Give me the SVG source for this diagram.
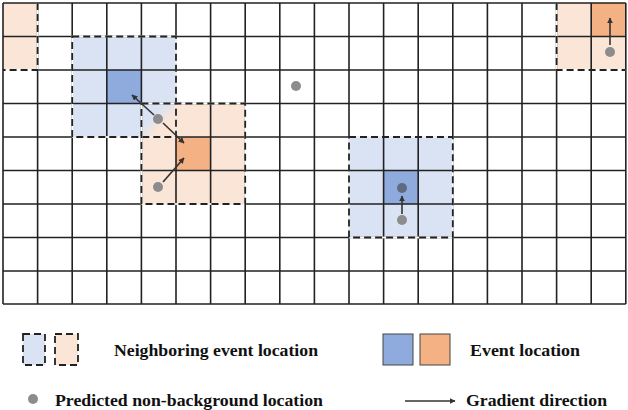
<svg xmlns="http://www.w3.org/2000/svg" width="628" height="410" viewBox="0 0 628 410">
<defs>
<style>
.lb{fill:#dae3f3}.db{fill:#8faadc}.lo{fill:#fbe5d6}.do{fill:#f4b183}
.g{stroke:#222;stroke-width:1.6}
.dw{fill:none;stroke:#fff;stroke-width:1.8}
.dd{fill:none;stroke:#222;stroke-width:1.8;stroke-dasharray:7 4}
.dot{fill:#8c8c8c}
.ar{stroke:#333;stroke-width:1.6;marker-end:url(#ah)}
.t{font-family:"Liberation Serif","Times New Roman",serif;font-weight:bold;font-size:17px;fill:#111}
</style>
<marker id="ah" viewBox="0 0 10 10" refX="9" refY="5" markerWidth="6" markerHeight="6" orient="auto" markerUnits="userSpaceOnUse"><path d="M0,0L10,5L0,10z" fill="#333"/></marker>
<linearGradient id="mix" x1="0" y1="0" x2="1" y2="1"><stop offset="0.35" stop-color="#dae3f3"/><stop offset="0.65" stop-color="#fbe5d6"/></linearGradient>
</defs>
<rect width="628" height="410" fill="#fff"/>
<g id="fills">
<rect class="lo" x="3" y="3" width="34.6" height="67"/>
<rect class="lb" x="72.2" y="36.5" width="103.8" height="100.5"/>
<rect class="lo" x="141.4" y="103.5" width="103.8" height="100.5"/>
<rect fill="url(#mix)" x="141.4" y="103.5" width="34.6" height="33.5"/>
<rect class="db" x="106.8" y="70" width="34.6" height="33.5"/>
<rect class="do" x="176" y="137" width="34.6" height="33.5"/>
<rect class="lb" x="349" y="137" width="103.8" height="100.5"/>
<rect class="db" x="383.6" y="170.5" width="34.6" height="33.5"/>
<rect class="lo" x="556.6" y="3" width="69.2" height="67"/>
<rect class="do" x="591.2" y="3" width="34.6" height="33.5"/>
</g>
<g id="grid" class="g">
<path d="M3,3V304M37.6,3V304M72.2,3V304M106.8,3V304M141.4,3V304M176,3V304M210.6,3V304M245.2,3V304M279.8,3V304M314.4,3V304M349,3V304M383.6,3V304M418.2,3V304M452.8,3V304M487.4,3V304M522,3V304M556.6,3V304M591.2,3V304M625.8,3V304"/>
<path d="M3,3H625.8M3,36.5H625.8M3,70H625.8M3,103.5H625.8M3,137H625.8M3,170.5H625.8M3,204H625.8M3,237.5H625.8M3,271H625.8M3,304H625.8"/>
</g>
<g id="borders">
<path class="dw" d="M37.6,3V70H3"/><path class="dd" d="M37.6,3V70H3"/>
<rect class="dw" x="72.2" y="36.5" width="103.8" height="100.5"/><rect class="dd" x="72.2" y="36.5" width="103.8" height="100.5"/>
<rect class="dw" x="141.4" y="103.5" width="103.8" height="100.5"/><rect class="dd" x="141.4" y="103.5" width="103.8" height="100.5"/>
<rect class="dw" x="349" y="137" width="103.8" height="100.5"/><rect class="dd" x="349" y="137" width="103.8" height="100.5"/>
<path class="dw" d="M556.6,3V70H625.8"/><path class="dd" d="M556.6,3V70H625.8"/>
</g>
<g id="connectors">
<line class="ar" x1="154" y1="115" x2="132" y2="95"/>
<line class="ar" x1="163" y1="123" x2="184" y2="143"/>
<line class="ar" x1="163" y1="182" x2="184" y2="158"/>
<line class="ar" x1="402" y1="214" x2="402" y2="196"/>
<line class="ar" x1="610" y1="45" x2="610" y2="18"/>
</g>
<g id="dots">
<circle class="dot" cx="158" cy="119" r="5"/>
<circle class="dot" cx="158" cy="187" r="5"/>
<circle class="dot" cx="296" cy="86" r="5"/>
<circle cx="402" cy="188" r="5" fill="#5f6b80"/>
<circle class="dot" cx="402" cy="220" r="5"/>
<circle class="dot" cx="610" cy="52" r="5"/>
</g>
<g id="legend">
<rect class="lb" x="23" y="334" width="22" height="31"/><rect class="dd" x="23" y="334" width="22" height="31" stroke-dasharray="5 3"/>
<rect class="lo" x="55" y="334" width="23" height="31"/><rect class="dd" x="55" y="334" width="23" height="31" stroke-dasharray="5 3"/>
<text class="t" x="114" y="356" textLength="204" lengthAdjust="spacingAndGlyphs">Neighboring event location</text>
<rect class="db" x="383" y="334" width="30" height="31" stroke="#444" stroke-width="1"/>
<rect class="do" x="420" y="334" width="30" height="31" stroke="#444" stroke-width="1"/>
<text class="t" x="470" y="356" textLength="110" lengthAdjust="spacingAndGlyphs">Event location</text>
<circle class="dot" cx="33" cy="399" r="5"/>
<text class="t" x="55" y="406" textLength="268" lengthAdjust="spacingAndGlyphs">Predicted non-background location</text>
<line class="ar" x1="405" y1="401" x2="455" y2="401"/>
<text class="t" x="466" y="406" textLength="141" lengthAdjust="spacingAndGlyphs">Gradient direction</text>
</g>
</svg>
